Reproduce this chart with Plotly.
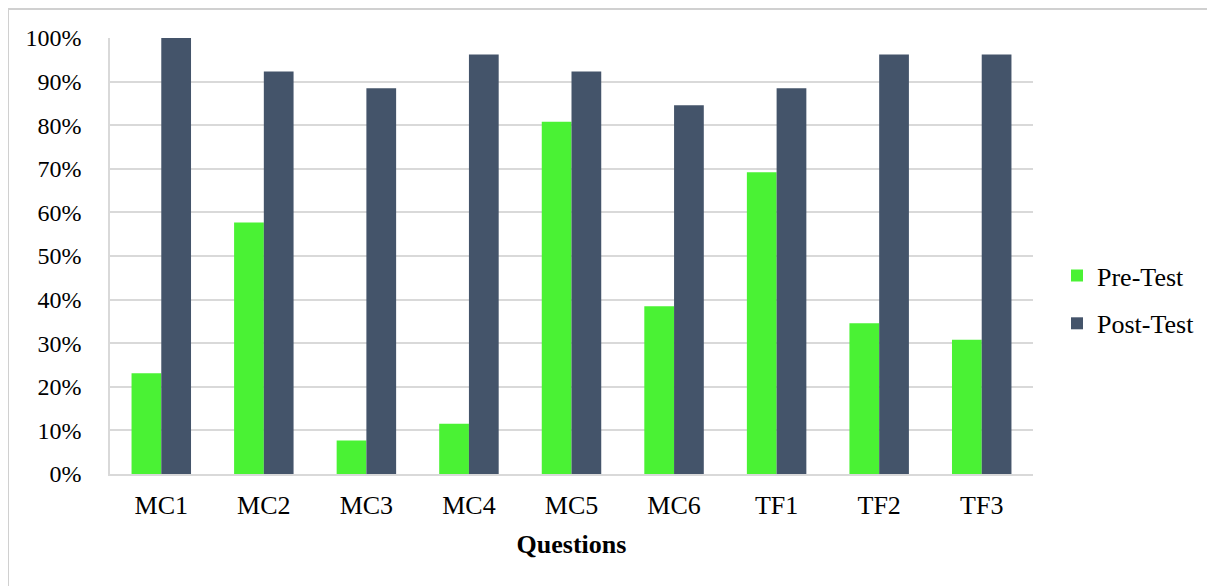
import plotly.graph_objects as go

categories = ["MC1", "MC2", "MC3", "MC4", "MC5", "MC6", "TF1", "TF2", "TF3"]
pre_test = [0.231, 0.577, 0.077, 0.115, 0.808, 0.385, 0.692, 0.346, 0.308]
post_test = [1.000, 0.923, 0.885, 0.962, 0.923, 0.846, 0.885, 0.962, 0.962]
y_ticks = [i / 10 for i in range(11)]
y_tick_labels = [f"{i*10}%" for i in range(11)]

FONT = "Liberation Serif, Times New Roman, serif"

fig = go.Figure()
fig.add_trace(go.Bar(name="Pre-Test", x=categories, y=pre_test,
                     marker=dict(color="#4af234", line=dict(width=0)),
                     legendgroup="a"))
fig.add_trace(go.Bar(name="Post-Test", x=categories, y=post_test,
                     marker=dict(color="#44546a", line=dict(width=0)),
                     legendgroup="b"))

fig.update_layout(
    width=1215, height=586,
    margin=dict(l=102, r=190, t=30, b=120),
    paper_bgcolor="white", plot_bgcolor="white",
    font=dict(family=FONT, size=24, color="black"),
    barmode="group", bargap=0.42, bargroupgap=0,
    legend=dict(x=1.026, xanchor="left", y=0.40, yanchor="middle",
                font=dict(family=FONT, size=26), tracegroupgap=11,
                itemclick=False),
    showlegend=True,
)
fig.update_xaxes(
    showline=True, linecolor="#d9d9d9", linewidth=1.5,
    ticks="", ticklabelstandoff=7,
    tickfont=dict(family=FONT, size=26),
    title=dict(text="<b>Questions</b>", font=dict(family=FONT, size=26), standoff=16),
)
fig.update_yaxes(
    range=[0, 1], tickvals=y_ticks, ticktext=y_tick_labels,
    showgrid=True, gridcolor="#d9d9d9", gridwidth=1.5,
    showline=True, linecolor="#d9d9d9", linewidth=1.5,
    zeroline=False, ticks="", ticklabelstandoff=22,
    tickfont=dict(family=FONT, size=24),
)
fig.add_shape(type="rect", xref="paper", yref="paper",
              x0=-0.1105, x1=1.1925, y0=-0.3, y1=1.0665,
              line=dict(color="#d0d0d0", width=2), fillcolor="rgba(0,0,0,0)",
              layer="above")

fig.write_html("out.html")
